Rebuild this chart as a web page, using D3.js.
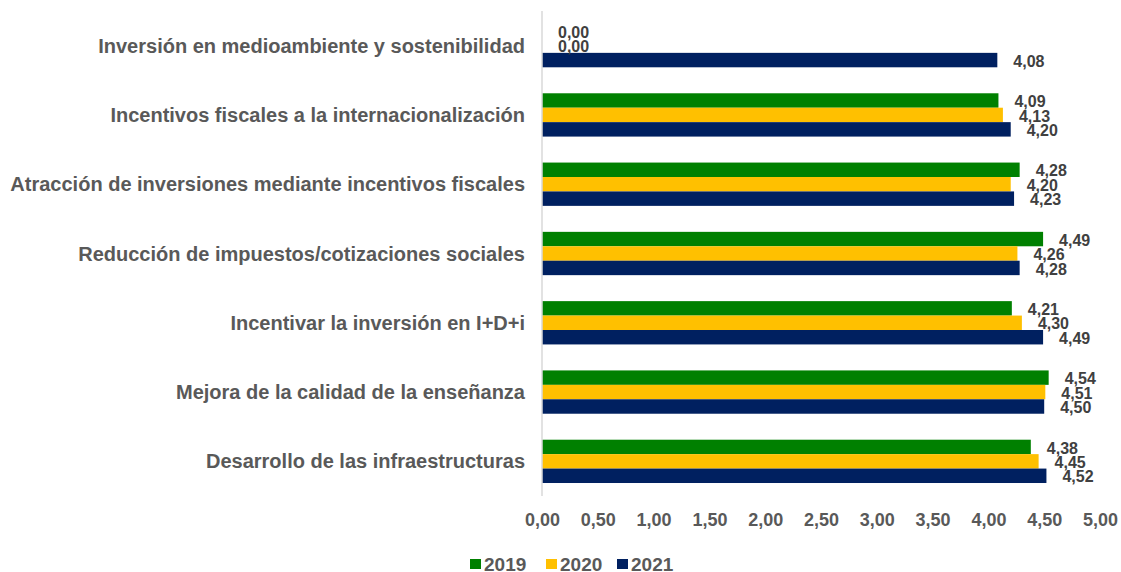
<!DOCTYPE html>
<html>
<head>
<meta charset="utf-8">
<script src="https://cdn.jsdelivr.net/npm/d3@7"></script>
<style>
  body { margin: 0; background: #fff; }
  svg { font-family: "Liberation Sans", Arial, sans-serif; font-weight: bold; }
</style>
</head>
<body>
<div id="graph"></div>
<script>
// data
var categories = [
  "Inversión en medioambiente y sostenibilidad",
  "Incentivos fiscales a la internacionalización",
  "Atracción de inversiones mediante incentivos fiscales",
  "Reducción de impuestos/cotizaciones sociales",
  "Incentivar la inversión en I+D+i",
  "Mejora de la calidad de la enseñanza",
  "Desarrollo de las infraestructuras"
];
var seriesNames = ["2019", "2020", "2021"];
var v2019 = [0.00, 4.09, 4.28, 4.49, 4.21, 4.54, 4.38];
var v2020 = [0.00, 4.13, 4.20, 4.26, 4.30, 4.51, 4.45];
var v2021 = [4.08, 4.20, 4.23, 4.28, 4.49, 4.50, 4.52];
var xTicks = [0, 0.5, 1, 1.5, 2, 2.5, 3, 3.5, 4, 4.5, 5];
var colors = ["#008000", "#FFC000", "#002060"];

var width = 1121, height = 572;
var svg = d3.select("#graph").append("svg")
  .attr("width", width).attr("height", height);

var x = d3.scaleLinear().domain([0, 5]).range([542, 1100]);
var y = d3.scaleBand().domain(categories).range([11, 496])
  .paddingInner(0.375).paddingOuter(0.1875);
var ySub = d3.scaleBand().domain(seriesNames).range([0, y.bandwidth()]);

var fmt = function(v){ return d3.format(".2f")(v).replace(".", ","); };

var rows = categories.map(function(c, i){
  return { cat: c, vals: [v2019[i], v2020[i], v2021[i]] };
});

var groups = svg.selectAll("g.grp")
  .data(rows).enter().append("g")
  .attr("class", "grp")
  .attr("transform", function(d){ return "translate(0," + y(d.cat) + ")"; });

groups.selectAll("rect")
  .data(function(d){ return d.vals.map(function(v, j){ return { s: seriesNames[j], v: v, j: j }; }); })
  .enter().append("rect")
  .attr("x", x(0))
  .attr("y", function(d){ return ySub(d.s); })
  .attr("height", ySub.bandwidth())
  .attr("width", function(d){ return x(d.v) - x(0); })
  .attr("fill", function(d){ return colors[d.j]; });

groups.selectAll("text.val")
  .data(function(d){ return d.vals.map(function(v, j){ return { s: seriesNames[j], v: v }; }); })
  .enter().append("text")
  .attr("class", "val")
  .attr("x", function(d){ return x(d.v) + 16; })
  .attr("y", function(d){ return ySub(d.s) + ySub.bandwidth() / 2 + 1; })
  .attr("dy", "0.35em")
  .attr("fill", "#404040")
  .style("font-size", "16px")
  .text(function(d){ return fmt(d.v); });

// category labels
svg.selectAll("text.cat")
  .data(categories).enter().append("text")
  .attr("class", "cat")
  .attr("x", 525)
  .attr("y", function(d){ return y(d) + y.bandwidth() / 2; })
  .attr("dy", "0.35em")
  .attr("text-anchor", "end")
  .attr("fill", "#595959")
  .style("font-size", "20px")
  .text(function(d){ return d; });

// axis line at zero
svg.append("line")
  .attr("x1", x(0)).attr("x2", x(0))
  .attr("y1", 11).attr("y2", 496)
  .attr("stroke", "#d9d9d9").attr("stroke-width", 1.5);

// x axis tick labels
var xAxis = svg.append("g")
  .attr("transform", "translate(0,513)")
  .call(d3.axisBottom(x).tickValues(xTicks).tickFormat(fmt).tickSize(0).tickPadding(0));
xAxis.select(".domain").remove();
xAxis.selectAll("text")
  .attr("fill", "#595959")
  .style("font-size", "18px")
  .style("font-family", "'Liberation Sans', Arial, sans-serif")
  .style("font-weight", "bold");

// legend
var legendX = [470, 546, 617];
var legend = svg.selectAll("g.leg")
  .data(seriesNames).enter().append("g")
  .attr("class", "leg")
  .attr("transform", function(d, i){ return "translate(" + legendX[i] + ",559)"; });
legend.append("rect")
  .attr("width", 11).attr("height", 10)
  .attr("fill", function(d, i){ return colors[i]; });
legend.append("text")
  .attr("x", 14).attr("y", 5)
  .attr("dy", "0.35em")
  .attr("fill", "#595959")
  .style("font-size", "19px")
  .text(function(d){ return d; });
</script>
</body>
</html>
